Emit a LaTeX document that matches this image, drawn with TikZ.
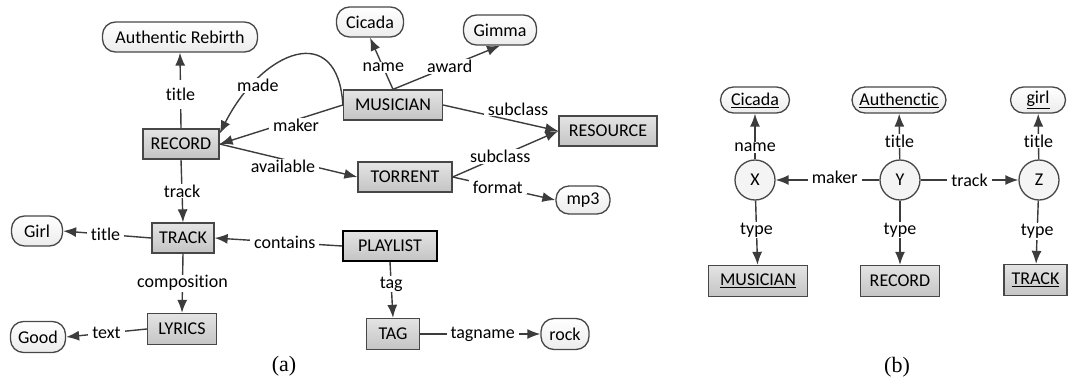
\documentclass[tikz,border=0pt]{standalone}
\usepackage{fontspec}
\setmainfont{Carlito}[Ligatures=NoCommon]
\newfontfamily\capfont{Liberation Serif}
\usetikzlibrary{arrows.meta}

\definecolor{strokegray}{HTML}{474747}
\definecolor{arrowgray}{HTML}{3C3C3C}
\definecolor{boxtop}{HTML}{E4E4E4}
\definecolor{boxbot}{HTML}{C4C4C4}
\definecolor{valtop}{HTML}{FFFFFF}
\definecolor{valbot}{HTML}{ECECEC}

\begin{document}
\begin{tikzpicture}[x=1pt,y=-1pt,
  every node/.style={font=\fontsize{18}{21}\selectfont},
  cls/.style={rectangle, draw=strokegray, line width=1.3pt,
    top color=boxtop, bottom color=boxbot, inner sep=0pt, minimum height=30pt},
  val/.style={rectangle, rounded corners=13pt, draw=strokegray, line width=1.3pt,
    top color=valtop, bottom color=valbot, inner sep=0pt, minimum height=30pt},
  var/.style={circle, draw=strokegray, line width=1.3pt, fill=valbot!60,
    inner sep=0pt, minimum size=40pt},
  conn/.style={draw=arrowgray, line width=1.4pt, -{Latex[length=13pt,width=10pt]}},
  lbl/.style={fill=white, inner xsep=4pt, inner ysep=1pt},
  caption/.style={font=\capfont\fontsize{22}{26}\selectfont},
]
\useasboundingbox (0,0) rectangle (1068,386);

% ---------------- (a) the schema graph ----------------
\node[val, minimum width=155pt] (ar)   at (180,37)  {Authentic Rebirth};
\node[val, minimum width=67pt]  (cic)  at (370,22)  {Cicada};
\node[val, minimum width=73pt]  (gim)  at (500,30)  {Gimma};
\node[cls, minimum width=76pt]  (rec)  at (181,144) {RECORD};
\node[cls, minimum width=99pt]  (mus)  at (393,105) {MUSICIAN};
\node[cls, minimum width=98pt]  (res)  at (608,131) {RESOURCE};
\node[cls, minimum width=94pt]  (tor)  at (405,177) {TORRENT};
\node[val, minimum width=54pt, minimum height=28pt] (mp3) at (583,200) {mp3};
\node[val, minimum width=51pt]  (girl) at (37,231)  {Girl};
\node[cls, minimum width=62pt]  (trk)  at (183,238) {TRACK};
\node[cls, minimum width=94pt, draw=black, line width=1.7pt] (pl) at (390,246) {PLAYLIST};
\node[cls, minimum width=69pt, minimum height=31pt] (lyr)  at (182,329) {LYRICS};
\node[val, minimum width=55pt, minimum height=31pt] (good) at (38,337)  {Good};
\node[cls, minimum width=53pt, minimum height=31pt] (tag)  at (393,334) {TAG};
\node[val, minimum width=48pt, minimum height=31pt] (rock) at (565,334) {rock};
\node[caption] (capa) at (284,366) {(a)};

\draw[conn] (rec.north) -- node[lbl, pos=.45, inner ysep=8pt]{title} (ar.south);
\draw[conn] (mus.north) -- node[lbl, pos=.42]{name} (cic.south);
\draw[conn] (mus.north) -- node[lbl, pos=.53]{award} (gim.south);
\draw[conn] (mus.west) -- node[lbl, pos=.38, yshift=-5pt]{maker} (rec.east);
\draw[conn] (mus.west) .. controls (338,20) and (262,50) ..
  node[lbl, pos=.77, xshift=5pt]{made} (rec.15);
\draw[conn] (rec.east) -- node[lbl, pos=.46, yshift=-7pt]{available} (tor.west);
\draw[conn] (mus.east) -- node[lbl, pos=.65, yshift=13pt]{subclass} (res.west);
\draw[conn] (tor.east) -- node[lbl, pos=.45]{subclass} (res.west);
\draw[conn] (tor.east) -- node[lbl, pos=.44]{format} (mp3.west);
\draw[conn] (rec.south) -- node[lbl]{track} (trk.north);
\draw[conn] (trk.west) -- node[lbl, pos=.52]{title} (girl.east);
\draw[conn] (pl.west) -- node[lbl, pos=.45]{contains} (trk.east);
\draw[conn] (trk.south) -- node[lbl]{composition} (lyr.north);
\draw[conn] (lyr.west) -- node[lbl]{text} (good.east);
\draw[conn] (pl.south) -- node[lbl, pos=.4]{tag} (tag.north);
\draw[conn] (tag.east) -- node[lbl, pos=.52]{tagname} (rock.west);

% ---------------- (b) the query graph ----------------
\node[val, minimum width=69pt, minimum height=26pt] (cic2)  at (755,100)  {\underline{Cicada}};
\node[val, minimum width=94pt, minimum height=26pt] (auth2) at (899,100)  {\underline{Authenctic}};
\node[val, minimum width=55pt, minimum height=26pt] (girl2) at (1038,100) {\underline{girl}};
\node[var] (vx) at (755,180)  {X};
\node[var] (vy) at (900,180)  {Y};
\node[var] (vz) at (1039,180) {Z};
\node[cls, minimum width=99pt, minimum height=31pt] (mus2) at (758,281)    {\underline{MUSICIAN}};
\node[cls, minimum width=79pt, minimum height=31pt] (rec2) at (900,281)    {RECORD};
\node[cls, minimum width=63pt, minimum height=31pt] (trk2) at (1035.5,280) {\underline{TRACK}};
\node[caption] (capb) at (897,367) {(b)};

\draw[conn] (vx) -- node[lbl, pos=.26]{name} (cic2);
\draw[conn] (vy) -- node[lbl, pos=.4]{title} (auth2);
\draw[conn] (vz) -- node[lbl, pos=.4]{title} (girl2);
\draw[conn] (vx) -- node[lbl, pos=.46]{type} (mus2);
\draw[conn] (vy) -- node[lbl, pos=.46]{type} (rec2);
\draw[conn] (vz) -- node[lbl, pos=.49]{type} (trk2);
\draw[conn] (vy) -- node[lbl, pos=.43, yshift=3pt]{maker} (vx);
\draw[conn] (vy) -- node[lbl, pos=.5]{track} (vz);
\end{tikzpicture}
\end{document}
